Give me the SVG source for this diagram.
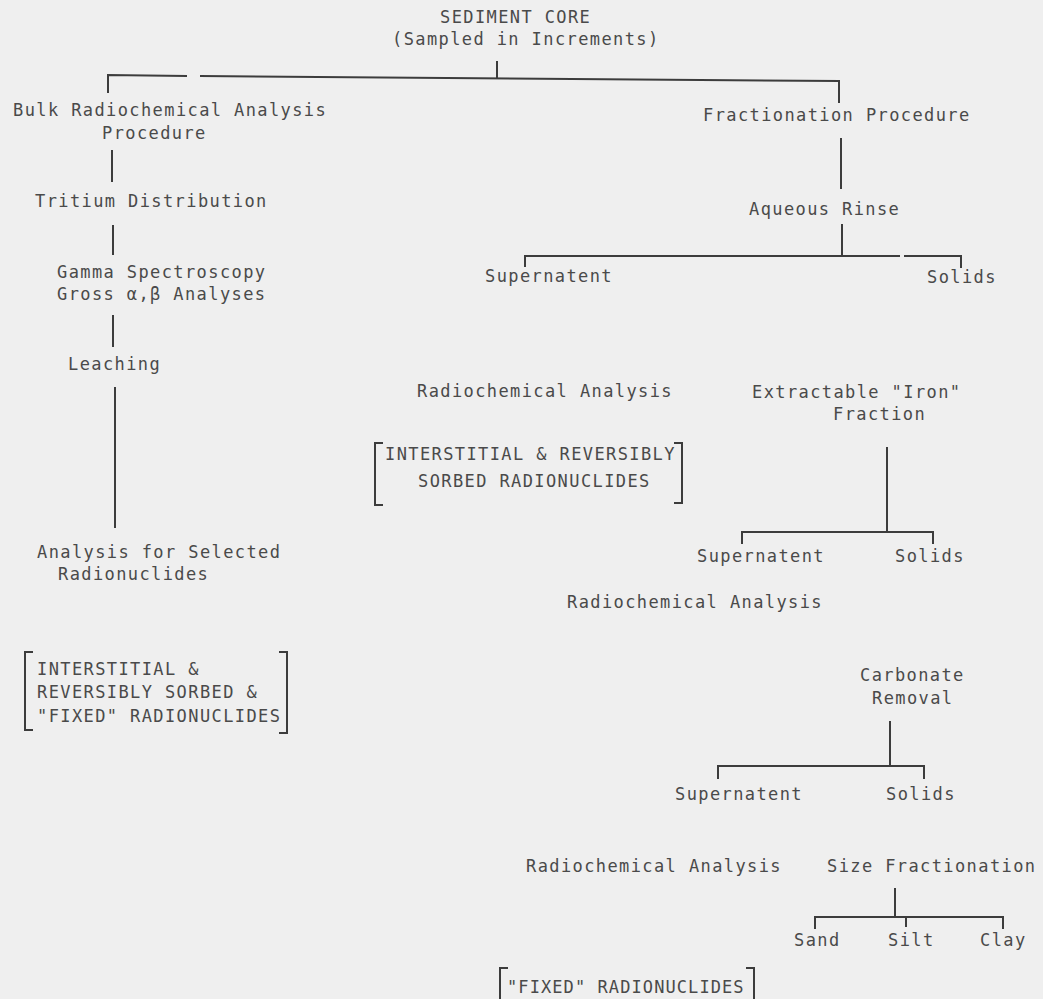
<svg xmlns="http://www.w3.org/2000/svg" width="1043" height="999" viewBox="0 0 1043 999">
<style>
text{font-family:"DejaVu Sans Mono","Liberation Mono",monospace;font-size:17px;fill:#4a4a4a;letter-spacing:1.4px}
.c path,.c line,.b{stroke:#3c3c3c;stroke-width:2;fill:none}
</style>
<rect width="1043" height="999" fill="#efefef"/>
<g class="c" id="connectors">
<line x1="497" y1="61" x2="497" y2="78"/>
<path d="M108 93 V75 L187 76 M200 76 L839 81 V103"/>
<line x1="112" y1="150" x2="112" y2="182"/>
<line x1="113" y1="225" x2="113" y2="255"/>
<line x1="113" y1="315" x2="113" y2="347"/>
<line x1="115" y1="387" x2="115" y2="528"/>
<line x1="841" y1="138" x2="841" y2="189"/>
<line x1="842" y1="224" x2="842" y2="256"/>
<path d="M525 267 V256 H900 M904 256 H961 V268"/>
<line x1="887" y1="447" x2="887" y2="532"/>
<path d="M742 544 V532 H933 V544"/>
<line x1="890" y1="721" x2="890" y2="766"/>
<path d="M718 779 V766 H924 V779"/>
<line x1="895" y1="888" x2="895" y2="917"/>
<path d="M815 929 V917 H1003 V929 M906 917 V927"/>
</g>
<g id="sediment-core"><text x="440" y="23">SEDIMENT CORE</text><text x="392" y="45">(Sampled in Increments)</text></g>
<g id="bulk"><text x="13" y="116">Bulk Radiochemical Analysis</text><text x="102" y="139">Procedure</text></g>
<g id="tritium"><text x="35" y="207">Tritium Distribution</text></g>
<g id="gamma"><text x="57" y="278">Gamma Spectroscopy</text><text x="57" y="300">Gross α,β Analyses</text></g>
<g id="leaching"><text x="68" y="370">Leaching</text></g>
<g id="selected"><text x="37" y="558">Analysis for Selected</text><text x="58" y="580">Radionuclides</text></g>
<g id="bracket-all"><path class="b" d="M33 652 H25 V730 H33 M279 652 H287 V733 H279"/><text x="37" y="675">INTERSTITIAL &amp;</text><text x="37" y="698">REVERSIBLY SORBED &amp;</text><text x="37" y="722">"FIXED" RADIONUCLIDES</text></g>
<g id="fractionation"><text x="703" y="121">Fractionation Procedure</text></g>
<g id="aqueous"><text x="749" y="215">Aqueous Rinse</text></g>
<g id="supernatent1"><text x="485" y="282">Supernatent</text></g>
<g id="solids1"><text x="927" y="283">Solids</text></g>
<g id="radio1"><text x="417" y="397">Radiochemical Analysis</text></g>
<g id="bracket-interstitial"><path class="b" d="M383 443 H375 V505 H383 M674 443 H682 V503 H674"/><text x="385" y="460">INTERSTITIAL &amp; REVERSIBLY</text><text x="418" y="487">SORBED RADIONUCLIDES</text></g>
<g id="iron"><text x="752" y="398">Extractable "Iron"</text><text x="833" y="420">Fraction</text></g>
<g id="supernatent2"><text x="697" y="562">Supernatent</text></g>
<g id="solids2"><text x="895" y="562">Solids</text></g>
<g id="radio2"><text x="567" y="608">Radiochemical Analysis</text></g>
<g id="carbonate"><text x="860" y="681">Carbonate</text><text x="872" y="704">Removal</text></g>
<g id="supernatent3"><text x="675" y="800">Supernatent</text></g>
<g id="solids3"><text x="886" y="800">Solids</text></g>
<g id="radio3"><text x="526" y="872">Radiochemical Analysis</text></g>
<g id="size"><text x="827" y="872">Size Fractionation</text></g>
<g id="sand"><text x="794" y="946">Sand</text></g>
<g id="silt"><text x="888" y="946">Silt</text></g>
<g id="clay"><text x="980" y="946">Clay</text></g>
<g id="bracket-fixed"><path class="b" d="M508 968 H500 V1006 M746 968 H754 V1006"/><text x="507" y="993" textLength="238">"FIXED" RADIONUCLIDES</text></g>
</svg>
